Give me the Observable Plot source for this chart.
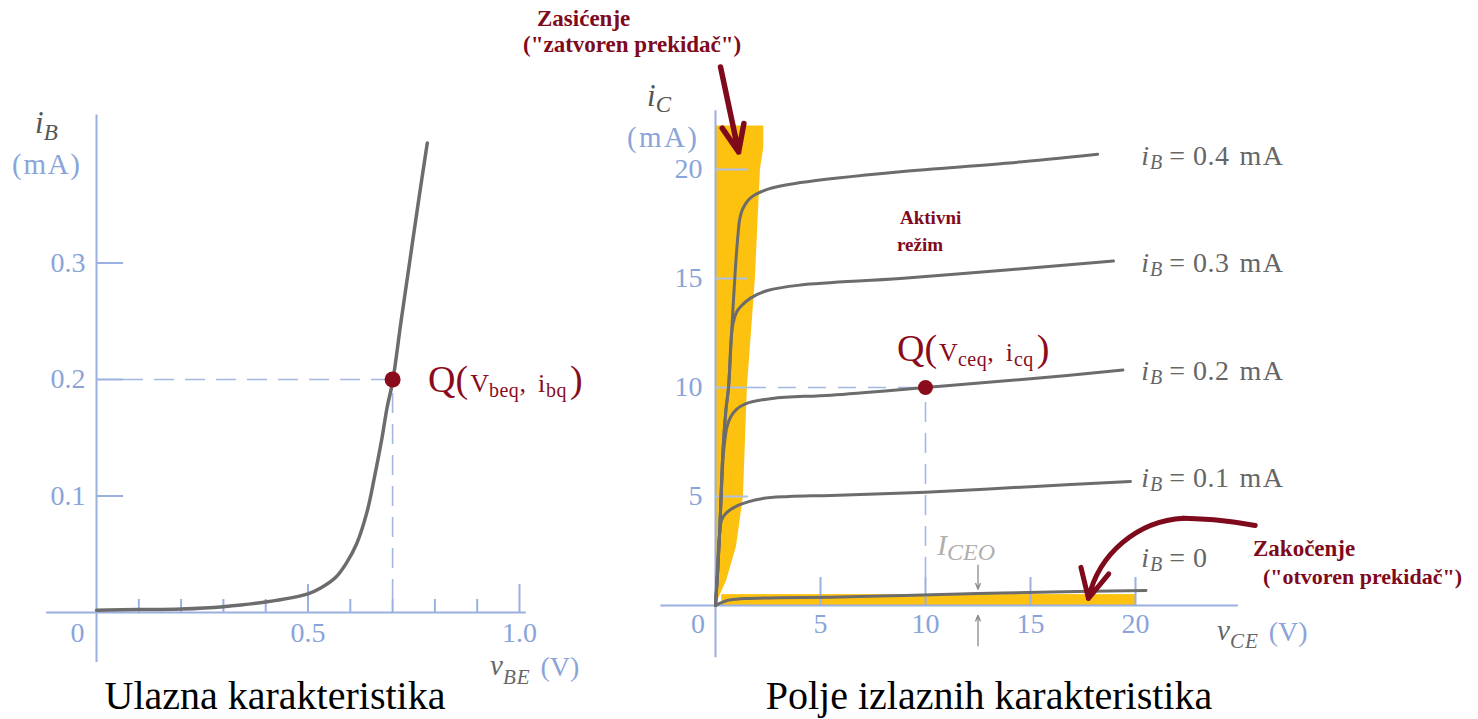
<!DOCTYPE html>
<html><head><meta charset="utf-8">
<script src="https://cdn.jsdelivr.net/npm/d3@7"></script>
<script src="https://cdn.jsdelivr.net/npm/@observablehq/plot@0.6"></script>
<style>
body{margin:0;background:#fff;}
#wrap{position:relative;width:1478px;height:719px;overflow:hidden;}
#wrap svg{position:absolute;left:0;top:0;}
</style></head><body><div id="wrap"></div>
<script>
// ---------- DATA ----------
// Input characteristic (Ulazna karakteristika): vBE (V) -> iB (mA)
const vBE = [0, 0.1, 0.2, 0.3, 0.4, 0.5, 0.53, 0.565, 0.59, 0.615, 0.64, 0.657, 0.675, 0.687, 0.70, 0.72, 0.74, 0.76, 0.782];
const iBin = [0.002, 0.0025, 0.003, 0.005, 0.009, 0.016, 0.021, 0.030, 0.042, 0.059, 0.087, 0.116, 0.150, 0.176, 0.198, 0.25, 0.30, 0.35, 0.403];
const qIn = [0.7, 0.2];                      // (vBEQ, iBQ)
const inXTicks = [0.1, 0.2, 0.3, 0.4, 0.6, 0.7, 0.8, 0.9];
const inXMajor = [0.5, 1.0];
const inYTicks = [0.1, 0.2, 0.3];

// Output characteristics (Polje izlaznih karakteristika): vCE (V) -> iC (mA)
const ibLevels = ["0", "0.1", "0.2", "0.3", "0.4"];
const vCE0 = [0, 0.25, 0.52, 1.0, 1.4, 3, 5.5, 9, 12.5, 16, 20.5];
const iC0  = [0, 0.12, 0.22, 0.29, 0.32, 0.36, 0.38, 0.46, 0.55, 0.62, 0.69];
const vCE1 = [0, 0.08, 0.18, 0.3, 0.52, 1.1, 2.2, 3.5, 5.5, 10, 15, 19.76];
const iC1  = [0, 1.5, 3.1, 3.95, 4.25, 4.6, 4.9, 5.0, 5.05, 5.2, 5.45, 5.69];
const vCE2 = [0, 0.1, 0.2, 0.3, 0.4, 0.55, 0.72, 1.0, 1.43, 2.7, 5.5, 10, 15, 19.4];
const iC2  = [0, 1.5, 3.4, 5.6, 7.2, 8.2, 8.65, 9.0, 9.25, 9.5, 9.65, 10.0, 10.4, 10.8];
const vCE3 = [0, 0.1, 0.2, 0.35, 0.5, 0.62, 0.76, 0.85, 1.0, 1.19, 1.67, 2.48, 4.05, 8.8, 14, 18.95];
const iC3  = [0, 1.5, 3.4, 7.0, 9.0, 10.0, 12.4, 13.0, 13.45, 13.7, 14.1, 14.45, 14.7, 15.0, 15.4, 15.8];
const vCE4 = [0, 0.1, 0.2, 0.35, 0.5, 0.62, 0.76, 0.95, 1.08, 1.15, 1.3, 1.67, 2.5, 4.05, 8.8, 14, 18.2];
const iC4  = [0, 1.5, 3.4, 7.0, 9.0, 10.0, 12.4, 15.5, 17.1, 17.7, 18.2, 18.7, 19.1, 19.4, 19.9, 20.3, 20.7];
const qOut = [10, 10];                       // (vCEQ, iCQ)
const outXTicks = [5, 10, 15, 20];
const outYTicks = [5, 10, 15, 20];
// saturation region (yellow): right edge vCE for each iC
const satI = [0, 1.1, 2.7, 5, 10, 15, 20, 21, 22];
const satV = [0, 0.52, 1.0, 1.33, 1.52, 1.9, 2.14, 2.3, 2.3];
// cut-off region (yellow strip)
const cutV = [0.3, 20];
const cutI = [0, 0.5];
// annotation arrows
const satArrow = [{v1: 0.24, i1: 24.7, v2: 1.1, i2: 20.8}];
const cutTailV = [25.7, 24.05, 22.3];
const cutTailI = [3.67, 3.9, 4.0];
const cutArrow = [{v1: 22.3, i1: 4.0, v2: 17.76, i2: 0.32}];
const iceoArrows = [{v: 12.5, from: 1.85, to: 0.75}, {v: 12.5, from: -1.85, to: -0.45}];
// curve label anchors (iC of label baseline)
const curveLabelI = [1.74, 5.41, 10.32, 15.28, 20.18];

// ---------- STYLE ----------
const W = 1478, H = 719;
const FONT = "Liberation Serif, Times New Roman, serif";
const cAxis = "#9ab0e0", cTickTxt = "#8aa4da", cCurve = "#6c6c6c", cQ = "#8a0c1c",
      cRed = "#7e0a1c", cYel = "#fdc20f", cGray = "#666666", cDash = "#a3b7e3";

const inRows = vBE.map((v, k) => ({v, i: iBin[k]}));
const outCurves = [[vCE0, iC0], [vCE1, iC1], [vCE2, iC2], [vCE3, iC3], [vCE4, iC4]];
const outRows = outCurves.flatMap(([vs, is], c) => vs.map((v, k) => ({ib: ibLevels[c], v, i: is[k]})));
const satRows = satI.map((i, k) => ({i, v: satV[k]}));

const wrap = document.getElementById("wrap");

// ---------- LEFT: input characteristic ----------
const left = Plot.plot({
  width: W, height: H,
  marginLeft: 96, marginRight: W - 519, marginTop: 146, marginBottom: H - 612,
  x: {domain: [0, 1], axis: null},
  y: {domain: [0, 0.4], axis: null},
  style: {fontFamily: FONT, background: "transparent", overflow: "visible"},
  marks: [
    Plot.ruleY([0], {x1: -0.118, x2: 1.016, stroke: cAxis, strokeWidth: 2}),
    Plot.ruleX([0], {y1: -0.043, y2: 0.427, stroke: cAxis, strokeWidth: 2}),
    Plot.ruleX(inXTicks, {y1: 0, y2: 0.0112, stroke: cAxis, strokeWidth: 2}),
    Plot.ruleX(inXMajor, {y1: 0, y2: 0.024, stroke: cAxis, strokeWidth: 2}),
    Plot.ruleY(inYTicks, {x1: 0, x2: 0.064, stroke: cAxis, strokeWidth: 2}),
    Plot.ruleY([qIn[1]], {x1: 0.064, x2: qIn[0], stroke: cDash, strokeWidth: 1.6, strokeDasharray: "20,11"}),
    Plot.ruleX([qIn[0]], {y1: 0.0112, y2: qIn[1], stroke: cDash, strokeWidth: 1.6, strokeDasharray: "20,11"}),
    Plot.line(inRows, {x: "v", y: "i", stroke: cCurve, strokeWidth: 3.5, curve: "catmull-rom"}),
    Plot.dot([qIn], {x: d => d[0], y: d => d[1], r: 8, fill: cQ}),
    Plot.axisY(inYTicks, {tickSize: 0, tickPadding: 11, fontSize: 28, color: cTickTxt, label: null, tickFormat: d3.format(".1f")}),
    Plot.axisX(inXMajor, {tickSize: 0, tickPadding: 10, fontSize: 28, color: cTickTxt, label: null, tickFormat: d3.format(".1f")}),
    Plot.axisX([0], {tickSize: 0, tickPadding: 10, dx: -19, fontSize: 28, color: cTickTxt, label: null, tickFormat: d3.format("d")})
  ]
});

// ---------- RIGHT: output characteristics ----------
const right = Plot.plot({
  width: W, height: H,
  marginLeft: 715, marginRight: W - 1135, marginTop: 169, marginBottom: H - 605,
  x: {domain: [0, 20], axis: null},
  y: {domain: [0, 20], axis: null},
  style: {fontFamily: FONT, background: "transparent", overflow: "visible"},
  marks: [
    Plot.areaX(satRows, {y: "i", x1: 0, x2: "v", fill: cYel, curve: "linear"}),
    Plot.rect([cutV], {x1: d => d[0], x2: d => d[1], y1: cutI[0], y2: cutI[1], fill: cYel}),
    Plot.ruleY([0], {x1: -2.6, x2: 24.9, stroke: cAxis, strokeWidth: 2}),
    Plot.ruleX([0], {y1: -2.4, y2: 22.7, stroke: cAxis, strokeWidth: 2}),
    Plot.ruleX(outXTicks, {y1: 0, y2: 1.28, stroke: cAxis, strokeWidth: 2}),
    Plot.ruleY(outYTicks, {x1: 0, x2: 1.57, stroke: "#aebfe3", strokeWidth: 2}),
    Plot.ruleY([qOut[1]], {x1: 1.57, x2: qOut[0], stroke: cDash, strokeWidth: 1.6, strokeDasharray: "18,12"}),
    Plot.ruleX([qOut[0]], {y1: 1.28, y2: qOut[1], stroke: cDash, strokeWidth: 1.6, strokeDasharray: "20,11"}),
    Plot.line(outRows, {x: "v", y: "i", z: "ib", stroke: cCurve, strokeWidth: 3, curve: "catmull-rom"}),
    Plot.dot([qOut], {x: d => d[0], y: d => d[1], r: 7.5, fill: cQ}),
    Plot.arrow(satArrow, {x1: "v1", y1: "i1", x2: "v2", y2: "i2", stroke: cRed, strokeWidth: 5.5, headLength: 8.5, headAngle: 45}),
    Plot.line(cutTailV.map((v, k) => ({v, i: cutTailI[k]})), {x: "v", y: "i", stroke: cRed, strokeWidth: 5, curve: "natural"}),
    Plot.arrow(cutArrow, {x1: "v1", y1: "i1", x2: "v2", y2: "i2", bend: -37, stroke: cRed, strokeWidth: 5, headLength: 9.6, headAngle: 53}),
    Plot.arrow(iceoArrows, {x1: "v", y1: "from", x2: "v", y2: "to", stroke: "#8a8a8a", strokeWidth: 1.3, headLength: 7, headAngle: 45}),
    Plot.axisY(outYTicks, {tickSize: 0, tickPadding: 13, fontSize: 28, color: cTickTxt, label: null}),
    Plot.axisX(outXTicks, {tickSize: 0, tickPadding: 8, fontSize: 28, color: cTickTxt, label: null}),
    Plot.axisX([0], {tickSize: 0, tickPadding: 8, dx: -17.5, fontSize: 28, color: cTickTxt, label: null, tickFormat: d3.format("d")})
  ]
});

wrap.appendChild(left);
wrap.appendChild(right);

// ---------- rich text helper (subscripts) ----------
function rich(svg, x, y, parts, anchor = "start", extra = {}) {
  const t = d3.select(svg).append("text")
    .attr("x", x).attr("y", y).attr("text-anchor", anchor)
    .attr("font-family", FONT).style("white-space", "pre");
  for (const [k, val] of Object.entries(extra)) t.attr(k, val);
  let cur = 0;
  for (const p of parts) {
    const sh = p.sh || 0;
    const s = t.append("tspan").attr("dy", sh - cur).attr("font-size", p.size).attr("fill", p.fill || "#000");
    if (p.dx) s.attr("dx", p.dx);
    if (p.ls) s.attr("letter-spacing", p.ls);
    if (p.it) s.attr("font-style", "italic");
    if (p.b) s.attr("font-weight", "bold");
    s.text(p.t);
    cur = sh;
  }
  return t;
}
const sx = p => { const s = p.scale("x"); return d3.scaleLinear(s.domain, s.range); };
const sy = p => { const s = p.scale("y"); return d3.scaleLinear(s.domain, s.range); };
const lx = sx(left), ly = sy(left), rx = sx(right), ry = sy(right);
const fit = w => ({textLength: w, lengthAdjust: "spacing"});

// left axis labels
rich(left, 35, 133, [{t: "i", size: 31, it: true, fill: "#555"}, {t: "B", size: 23, it: true, fill: "#555", sh: 7}]);
rich(left, 12, 174, [{t: "(mA)", size: 29, fill: cTickTxt}], "start", fit(68));
rich(left, 490, 675, [{t: "v", size: 29, it: true, fill: "#666"}, {t: "BE", size: 21, it: true, fill: "#666", sh: 9, ls: 1}, {t: " (V)", size: 28, fill: cTickTxt, sh: 1, dx: 3}]);
// left Q label
const qParts = (s1, s2) => [
  {t: "Q(", size: 38, fill: cQ}, {t: "V", size: 26, fill: cQ, dx: 2}, {t: s1, size: 20, fill: cQ, sh: 5, ls: 0.5},
  {t: ",", size: 26, fill: cQ}, {t: "i", size: 26, fill: cQ, dx: 12}, {t: s2, size: 20, fill: cQ, sh: 5, ls: 0.5, dx: 1},
  {t: ")", size: 38, fill: cQ, dx: 3}
];
rich(left, lx(qIn[0]) + 36, ly(qIn[1]) + 13, qParts("beq", "bq"));

// right axis labels
rich(right, 647, 106, [{t: "i", size: 31, it: true, fill: "#555"}, {t: "C", size: 23, it: true, fill: "#555", sh: 6}]);
rich(right, 627, 147, [{t: "(mA)", size: 29, fill: cTickTxt}], "start", fit(70));
rich(right, 1217, 640, [{t: "v", size: 29, it: true, fill: "#666"}, {t: "CE", size: 21, it: true, fill: "#666", sh: 8, ls: 1}, {t: " (V)", size: 28, fill: cTickTxt, sh: 1, dx: 3}]);
// right Q label
rich(right, rx(qOut[0]) - 28, ry(qOut[1]) - 26, qParts("ceq", "cq"));
// curve labels
ibLevels.forEach((lv, k) => {
  const parts = [
    {t: "i", size: 28, it: true, fill: cGray}, {t: "B", size: 20, it: true, fill: cGray, sh: 4, dx: 1},
    {t: "=", size: 28, fill: cGray, dx: 7}, {t: lv, size: 28, fill: cGray, dx: 8, ls: 0.5}
  ];
  if (lv !== "0") parts.push({t: "mA", size: 28, fill: cGray, dx: 10, ls: 1.5});
  rich(right, rx(20.3), ry(curveLabelI[k]), parts);
});
// I_CEO
rich(right, 937, 555, [{t: "I", size: 30, it: true, fill: "#b0b0b0"}, {t: "CEO", size: 24, it: true, fill: "#b0b0b0", sh: 5}]);
// region annotations
rich(right, 537, 26, [{t: "Zasićenje", size: 23, b: true, fill: cRed}]);
rich(right, 523, 52, [{t: "(\"zatvoren prekidač\")", size: 23, b: true, fill: cRed}]);
rich(right, 900, 224, [{t: "Aktivni", size: 19, b: true, fill: cRed}]);
rich(right, 897, 251, [{t: "režim", size: 19, b: true, fill: cRed}]);
rich(right, 1253, 556, [{t: "Zakočenje", size: 23, b: true, fill: cRed}]);
rich(right, 1263, 584, [{t: "(\"otvoren prekidač\")", size: 22, b: true, fill: cRed}]);
// titles
rich(left, 275, 709, [{t: "Ulazna karakteristika", size: 40, fill: "#000"}], "middle");
rich(right, 989, 709, [{t: "Polje izlaznih karakteristika", size: 40, fill: "#000"}], "middle");
</script></body></html>
